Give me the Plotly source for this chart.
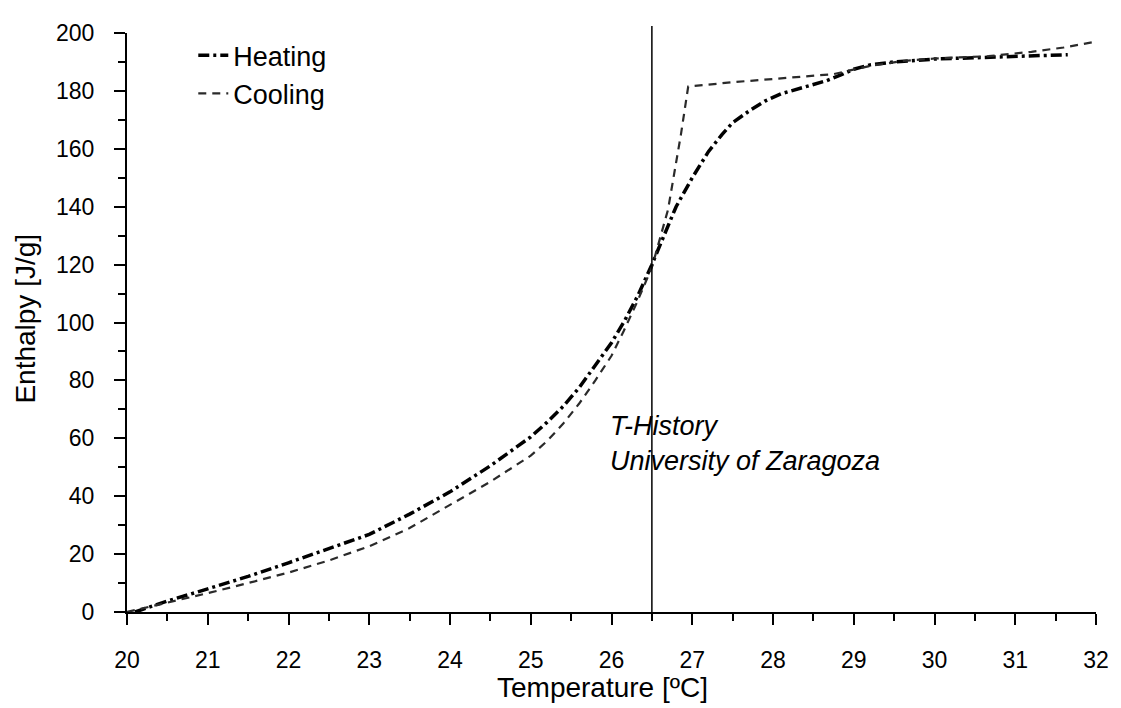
import plotly.graph_objects as go

# Heating curve (dash-dot)
heat_T = [20.1, 20.5, 21.0, 21.5, 22.0, 22.5, 23.0, 23.5, 24.0, 24.5, 25.0, 25.2, 25.4, 25.6, 25.8,
          26.0, 26.16, 26.33, 26.5, 26.65, 26.8, 27.0, 27.2, 27.37, 27.5, 27.7, 27.9, 28.1, 28.4,
          28.66, 28.84, 29.0, 29.2, 29.5, 30.0, 30.5, 31.0, 31.65]
heat_H = [0.0, 3.8, 8.0, 12.3, 17.0, 21.8, 26.8, 33.8, 41.5, 50.5, 60.5, 65.5, 71.0, 77.5, 85.0,
          93.0, 100.5, 109.5, 120.0, 130.0, 140.0, 150.0, 159.0, 165.0, 169.0, 173.0, 176.5, 179.0, 181.5,
          183.5, 185.5, 187.5, 189.0, 190.0, 191.0, 191.5, 192.0, 192.5]

# Cooling curve (dashed)
cool_T = [20.0, 20.5, 21.0, 21.5, 22.0, 22.5, 23.0, 23.5, 24.0, 24.5, 25.0, 25.2, 25.4, 25.6, 25.8,
          26.0, 26.15, 26.3, 26.5, 26.7, 26.86, 26.92, 26.95, 27.5, 28.0, 28.75, 29.2, 29.6, 30.0,
          30.67, 31.2, 31.6, 32.0]
cool_H = [0.0, 3.2, 6.5, 10.0, 13.6, 17.8, 22.7, 29.0, 37.0, 45.0, 54.0, 59.0, 65.0, 72.0, 80.0,
          88.5, 97.0, 106.0, 119.0, 139.0, 165.0, 176.0, 181.5, 183.0, 184.2, 185.8, 188.6, 190.3, 191.2,
          192.0, 193.5, 195.0, 197.0]

x_ticks = [20, 21, 22, 23, 24, 25, 26, 27, 28, 29, 30, 31, 32]
y_ticks = [0, 20, 40, 60, 80, 100, 120, 140, 160, 180, 200]
marker_T = 26.5

FONT = "Arial, Liberation Sans, sans-serif"

fig = go.Figure()
fig.add_trace(go.Scatter(
    x=heat_T, y=heat_H, mode="lines", name="Heating",
    line=dict(color="black", width=3.5, dash="11px,4px,3px,4px"),
))
fig.add_trace(go.Scatter(
    x=cool_T, y=cool_H, mode="lines", name="Cooling",
    line=dict(color="#2a2a2a", width=2.2, dash="8px,6px"),
))

fig.add_shape(type="line", xref="x", yref="paper", x0=marker_T, x1=marker_T, y0=0, y1=1.012,
              line=dict(color="black", width=1.5))

fig.add_annotation(x=25.96, y=64.3, xref="x", yref="y", text="<i>T-History</i>",
                   showarrow=False, xanchor="left", yanchor="middle",
                   font=dict(family=FONT, size=27, color="black"))
fig.add_annotation(x=25.96, y=52.1, xref="x", yref="y", text="<i>University of Zaragoza</i>",
                   showarrow=False, xanchor="left", yanchor="middle",
                   font=dict(family=FONT, size=27, color="black"))

# axis titles
fig.add_annotation(x=0.4903, y=-0.1303, xref="paper", yref="paper", text="Temperature [ºC]",
                   showarrow=False, xanchor="center", yanchor="middle",
                   font=dict(family=FONT, size=28, color="black"))
fig.add_annotation(x=-0.1042, y=0.5068, xref="paper", yref="paper", text="Enthalpy [J/g]",
                   showarrow=False, xanchor="center", yanchor="middle", textangle=-90,
                   font=dict(family=FONT, size=28, color="black"))

# the page body adds an 8px margin, so the figure is sized/offset to land on the window
fig.update_layout(
    width=1113, height=700,
    margin=dict(l=119, r=15, t=13, b=96),
    paper_bgcolor="white", plot_bgcolor="white",
    font=dict(family=FONT, size=23, color="black"),
    showlegend=True,
    legend=dict(x=0.0684, y=1.003, xanchor="left", yanchor="top",
                bgcolor="rgba(0,0,0,0)", font=dict(family=FONT, size=27, color="black"),
                tracegroupgap=0),
    xaxis=dict(
        range=[20, 32], tickvals=x_ticks, ticktext=[str(v) for v in x_ticks],
        showgrid=False, zeroline=False, showline=True, linecolor="black", linewidth=2,
        ticks="outside", ticklen=11, tickwidth=2, tickcolor="black",
        minor=dict(ticks="outside", ticklen=7, tickwidth=2, tickcolor="black", dtick=0.5, showgrid=False),
        tickfont=dict(family=FONT, size=23, color="black"),
        ticklabelstandoff=15,
    ),
    yaxis=dict(
        range=[0, 200], tickvals=y_ticks, ticktext=[str(v) for v in y_ticks],
        showgrid=False, zeroline=False, showline=True, linecolor="black", linewidth=2,
        ticks="outside", ticklen=11, tickwidth=2, tickcolor="black",
        minor=dict(ticks="outside", ticklen=7, tickwidth=2, tickcolor="black", dtick=10, showgrid=False),
        tickfont=dict(family=FONT, size=23, color="black"),
        ticklabelstandoff=15,
    ),
)

fig.write_html("out.html")
